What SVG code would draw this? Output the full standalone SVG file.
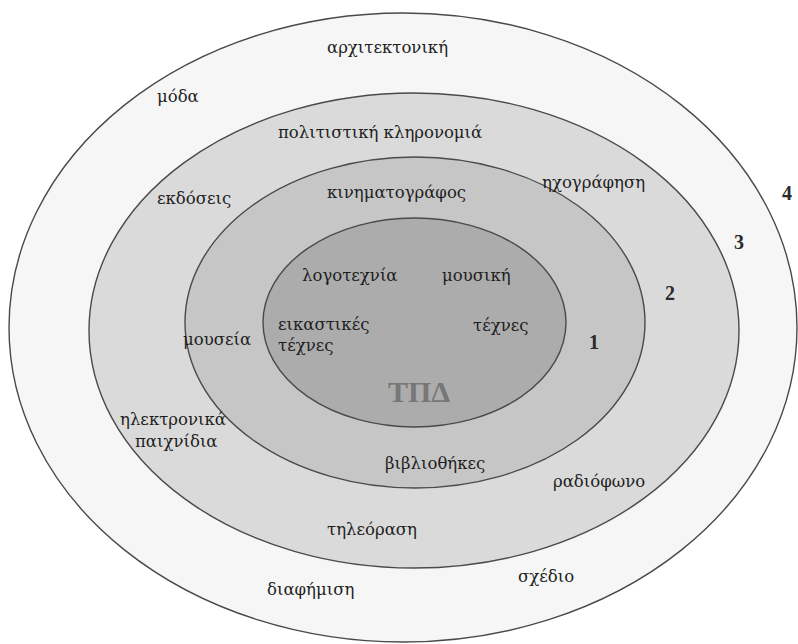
<svg xmlns="http://www.w3.org/2000/svg" width="798" height="644" viewBox="0 0 798 644">
<style>
.ring{stroke:#4a4a4a;stroke-width:1.4}
.t{font-family:"DejaVu Serif","Liberation Serif",serif;font-size:16.5px;fill:#1e1e1e}
.n{font-family:"Liberation Serif","DejaVu Serif",serif;font-size:20px;font-weight:bold;fill:#2a2a2a}
.c{font-family:"Liberation Serif","DejaVu Serif",serif;font-size:30px;font-weight:bold;fill:#777777}
</style>
<rect width="798" height="644" fill="#ffffff"/>
<g id="layer4">
<ellipse class="ring" cx="403" cy="327.5" rx="394" ry="314.5" fill="#f6f6f6"/>
</g>
<g id="layer3">
<ellipse class="ring" cx="414" cy="330.5" rx="325" ry="237.5" fill="#dadada"/>
</g>
<g id="layer2">
<ellipse class="ring" cx="415" cy="322.5" rx="230" ry="165.5" fill="#c6c6c6"/>
</g>
<g id="layer1">
<ellipse class="ring" cx="414.5" cy="322.5" rx="151.5" ry="104.5" fill="#acacac"/>
</g>
<g id="labels">
<text class="t" x="327" y="53">αρχιτεκτονική</text>
<text class="t" x="157" y="102">μόδα</text>
<text class="t" x="278" y="138">πολιτιστική κληρονομιά</text>
<text class="t" x="157" y="204">εκδόσεις</text>
<text class="t" x="327" y="198">κινηματογράφος</text>
<text class="t" x="542" y="188">ηχογράφηση</text>
<text class="t" x="302" y="281">λογοτεχνία</text>
<text class="t" x="442" y="281">μουσική</text>
<text class="t" x="278" y="330">εικαστικές</text>
<text class="t" x="278" y="351">τέχνες</text>
<text class="t" x="473" y="331">τέχνες</text>
<text class="t" x="183" y="345">μουσεία</text>
<text class="t" x="120" y="425">ηλεκτρονικά</text>
<text class="t" x="135" y="447">παιχνίδια</text>
<text class="t" x="385" y="469">βιβλιοθήκες</text>
<text class="t" x="553" y="487">ραδιόφωνο</text>
<text class="t" x="327" y="535">τηλεόραση</text>
<text class="t" x="518" y="582">σχέδιο</text>
<text class="t" x="267" y="595">διαφήμιση</text>
<text class="c" x="419" y="402" text-anchor="middle">ΤΠΔ</text>
<text class="n" x="589" y="349">1</text>
<text class="n" x="665" y="300">2</text>
<text class="n" x="734" y="249">3</text>
<text class="n" x="782" y="200">4</text>
</g>
</svg>
